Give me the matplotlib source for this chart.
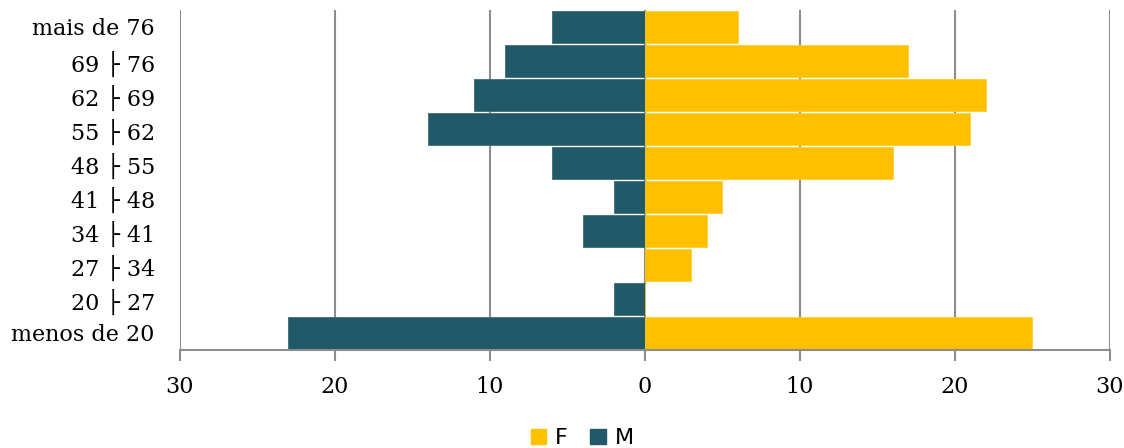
import numpy as np
import matplotlib.pyplot as plt
from matplotlib.patches import Patch

categorias = ["menos de 20", "20 \u251c 27", "27 \u251c 34", "34 \u251c 41", "41 \u251c 48",
              "48 \u251c 55", "55 \u251c 62", "62 \u251c 69", "69 \u251c 76", "mais de 76"]
masc = [23, 2, 0, 4, 2, 6, 14, 11, 9, 6]
fem = [25, 0, 3, 4, 5, 16, 21, 22, 17, 6]
xticks = [-30, -20, -10, 0, 10, 20, 30]

cor_m = "#215968"
cor_f = "#FFC000"
cinza = "#8c8c8c"
serif = ["DejaVu Serif", "DejaVu Sans"]

fig = plt.figure(figsize=(11.24, 4.48), dpi=100)
ax = fig.add_axes([0.160, 0.219, 0.8275, 0.759])

y = np.arange(len(categorias))
ax.barh(y, [-v for v in masc], height=0.94, color=cor_m, edgecolor="#3d6c79", linewidth=0.6, zorder=3)
ax.barh(y, fem, height=0.94, color=cor_f, edgecolor="#ffcb33", linewidth=0.6, zorder=3)

ax.set_xlim(-30, 30)
ax.set_ylim(-0.5, len(categorias) - 0.5)
ax.set_xticks(xticks)
ax.set_xticklabels([str(abs(v)) for v in xticks], family=serif, fontsize=16)
ax.set_yticks(y)
ax.set_yticklabels(categorias, family=serif, fontsize=16)
ax.tick_params(axis="y", length=0, pad=18)
ax.tick_params(axis="x", length=8, width=1.5, color=cinza, pad=11)
ax.grid(axis="x", color=cinza, linewidth=1.5, zorder=1)
for s in ["top", "right", "left"]:
    ax.spines[s].set_visible(False)
ax.spines["bottom"].set_color(cinza)
ax.spines["bottom"].set_linewidth(1.5)
ax.spines["bottom"].set_zorder(4)

handles = [Patch(color=cor_f, label="F"), Patch(color=cor_m, label="M")]
fig.legend(handles=handles, loc="lower center", bbox_to_anchor=(0.518, -0.045), ncol=2,
           frameon=False, fontsize=16, handlelength=0.7, handleheight=0.7,
           handletextpad=0.4, columnspacing=1.0)

fig.savefig("out.png", dpi=100)
